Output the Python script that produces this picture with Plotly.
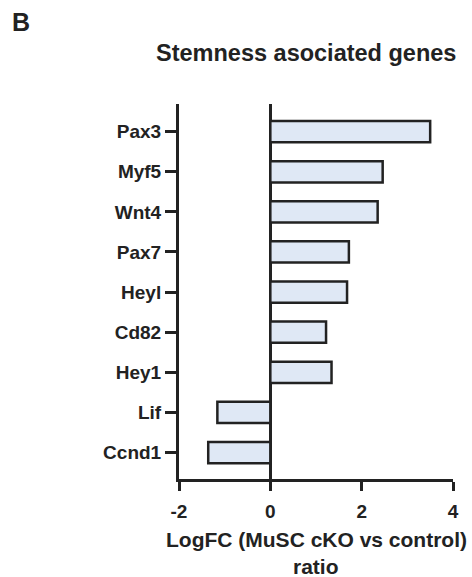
import plotly.graph_objects as go

# Stemness-associated genes, log fold change (MuSC cKO vs control)
genes = ["Pax3", "Myf5", "Wnt4", "Pax7", "Heyl", "Cd82", "Hey1", "Lif", "Ccnd1"]
logfc = [3.50, 2.46, 2.35, 1.72, 1.68, 1.22, 1.34, -1.16, -1.36]
x_ticks = [-2, 0, 2, 4]

INK = "#222222"
FILL = "#dfe8f5"
FONT = "Liberation Sans, Arial, sans-serif"

positions = list(range(len(genes)))

fig = go.Figure(
    go.Bar(
        x=logfc,
        y=positions,
        orientation="h",
        width=0.53,
        marker=dict(color=FILL, line=dict(color=INK, width=2.5)),
        hoverinfo="x",
    )
)

fig.update_layout(
    width=472,
    height=577,
    margin=dict(l=179, r=19, t=104, b=98),
    paper_bgcolor="white",
    plot_bgcolor="white",
    showlegend=False,
    font=dict(family=FONT, color=INK, size=19, weight="bold"),
    xaxis=dict(
        range=[-2, 4],
        tickvals=x_ticks,
        ticktext=[str(v) for v in x_ticks],
        showgrid=False,
        zeroline=True,
        zerolinecolor=INK,
        zerolinewidth=3,
        showline=True,
        linecolor=INK,
        linewidth=3,
        ticks="outside",
        ticklen=9,
        tickwidth=3,
        tickcolor=INK,
        ticklabelstandoff=4,
        tickfont=dict(size=19, family=FONT, color=INK, weight="bold"),
        fixedrange=True,
    ),
    yaxis=dict(
        range=[len(genes) - 1 + 0.66, -0.69],
        tickvals=positions,
        ticktext=genes,
        showgrid=False,
        zeroline=False,
        showline=True,
        linecolor=INK,
        linewidth=3,
        ticks="outside",
        ticklen=11,
        tickwidth=3,
        tickcolor=INK,
        tickfont=dict(size=19, family=FONT, color=INK, weight="bold"),
        fixedrange=True,
    ),
    annotations=[
        dict(text="B", xref="paper", yref="paper", x=-0.575, y=1.219,
             xanchor="center", yanchor="middle", showarrow=False,
             font=dict(size=25, family=FONT, color=INK, weight="bold")),
        dict(text="Stemness asociated genes", xref="paper", yref="paper",
             x=0.465, y=1.136, xanchor="center", yanchor="middle", showarrow=False,
             font=dict(size=23.5, family=FONT, color=INK, weight="bold")),
        dict(text="LogFC (MuSC cKO vs control)", xref="paper", yref="paper",
             x=0.5, y=-0.16, xanchor="center", yanchor="middle", showarrow=False,
             font=dict(size=21, family=FONT, color=INK, weight="bold")),
        dict(text="ratio", xref="paper", yref="paper",
             x=0.5, y=-0.232, xanchor="center", yanchor="middle", showarrow=False,
             font=dict(size=21, family=FONT, color=INK, weight="bold")),
    ],
)

fig.write_html("out.html")
